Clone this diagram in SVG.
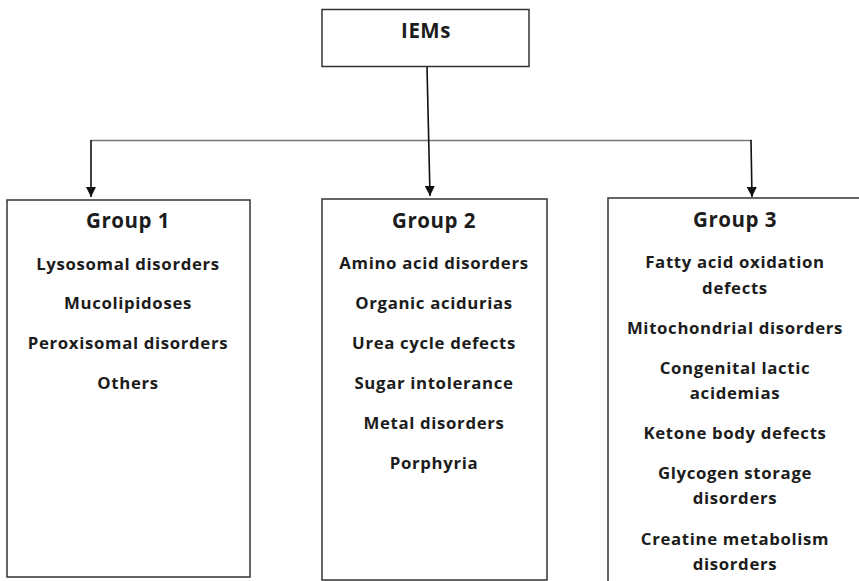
<svg xmlns="http://www.w3.org/2000/svg" width="859" height="581" viewBox="0 0 859 581">
<defs>
<style>
.box{fill:#fff;stroke:#333;stroke-width:1.5}
.t{font-family:"Open Sans","Liberation Sans",Arial,sans-serif;font-weight:bold;fill:#1c1c1c;text-anchor:middle}
.h{font-size:20.5px;letter-spacing:0.5px}
.i{font-size:16.8px;letter-spacing:0.65px}
.c{fill:none;stroke:#111;stroke-width:1.6}
.hl{fill:none;stroke:#777;stroke-width:1.5}
</style>
<marker id="ah" viewBox="0 0 10 10" refX="10" refY="5" markerWidth="10" markerHeight="10" markerUnits="userSpaceOnUse" orient="auto">
<path d="M0,0 L10,5 L0,10 z" fill="#111"/>
</marker>
</defs>
<rect width="859" height="581" fill="#fff"/>
<g id="connectors">
<path class="hl" d="M91,140.5 H752"/>
<path class="c" d="M427,67 L430,196" marker-end="url(#ah)"/>
<path class="c" d="M91,140 V197" marker-end="url(#ah)"/>
<path class="c" d="M751,140 L752,197" marker-end="url(#ah)"/>
</g>
<g id="iems">
<rect class="box" x="322" y="9.5" width="207" height="57"/>
<text class="t h" x="426" y="38">IEMs</text>
</g>
<g id="group1">
<rect class="box" x="7" y="200" width="243" height="377"/>
<text class="t h" x="128" y="228">Group 1</text>
<text class="t i" x="128" y="270">Lysosomal disorders</text>
<text class="t i" x="128" y="309">Mucolipidoses</text>
<text class="t i" x="128" y="349">Peroxisomal disorders</text>
<text class="t i" x="128" y="389">Others</text>
</g>
<g id="group2">
<rect class="box" x="322" y="199" width="225" height="381"/>
<text class="t h" x="434" y="228">Group 2</text>
<text class="t i" x="434" y="269">Amino acid disorders</text>
<text class="t i" x="434" y="309">Organic acidurias</text>
<text class="t i" x="434" y="349">Urea cycle defects</text>
<text class="t i" x="434" y="389">Sugar intolerance</text>
<text class="t i" x="434" y="429">Metal disorders</text>
<text class="t i" x="434" y="469">Porphyria</text>
</g>
<g id="group3">
<rect class="box" x="608" y="198" width="260" height="400"/>
<text class="t h" x="735" y="227">Group 3</text>
<text class="t i" x="735" y="268">Fatty acid oxidation</text>
<text class="t i" x="735" y="294">defects</text>
<text class="t i" x="735" y="334">Mitochondrial disorders</text>
<text class="t i" x="735" y="374">Congenital lactic</text>
<text class="t i" x="735" y="399">acidemias</text>
<text class="t i" x="735" y="439">Ketone body defects</text>
<text class="t i" x="735" y="479">Glycogen storage</text>
<text class="t i" x="735" y="504">disorders</text>
<text class="t i" x="735" y="545">Creatine metabolism</text>
<text class="t i" x="735" y="570">disorders</text>
</g>
</svg>
